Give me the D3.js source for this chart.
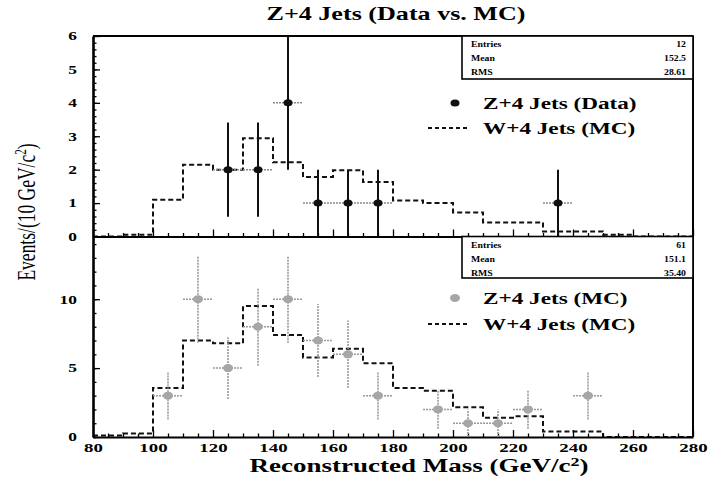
<!DOCTYPE html>
<html><head><meta charset="utf-8">
<script src="https://cdn.jsdelivr.net/npm/d3@7"></script>
<style>body{margin:0;background:#fff}</style>
</head><body>
<svg id="c" width="708" height="481"></svg>
<script>
// ---- data ----
const binLow = [80,90,100,110,120,130,140,150,160,170,180,190,200,210,220,230,240,250,260,270];
const wTop   = [0,0.05,1.1,2.15,2.0,2.94,2.22,1.78,1.98,1.63,1.08,1.0,0.72,0.42,0.42,0.15,0.15,0.05,0,0];
const wBot   = [0.1,0.25,3.55,7.0,6.8,9.5,7.4,5.77,6.4,5.36,3.55,3.35,2.15,1.4,1.5,0.4,0.4,0,0,0];
const dataX   = [125,135,145,155,165,175,235];
const dataY   = [2,2,4,1,1,1,1];
const dataErr = [1.41,1.41,2,1,1,1,1];
const mcX   = [105,115,125,135,145,155,165,175,195,205,215,225,245];
const mcY   = [3,10,5,8,10,7,6,3,2,1,1,2,3];
const mcErr = [1.73,3.16,2.24,2.83,3.16,2.65,2.45,1.73,1.41,1,1,1.41,1.73];
const xTicks = [80,100,120,140,160,180,200,220,240,260,280];
const topYTicks = [0,1,2,3,4,5,6];
const botYTicks = [0,5,10];
const statLabels = ["Entries","Mean","RMS"];
const statTopValues = ["12","152.5","28.61"];
const statBotValues = ["61","151.1","35.40"];
const title = "Z+4 Jets (Data vs. MC)";
const legendTop = ["Z+4 Jets (Data)","W+4 Jets (MC)"];
const legendBot = ["Z+4 Jets (MC)","W+4 Jets (MC)"];

// ---- layout ----
const L=93, R=693, T=36, M=236.5, B=437;
const SX = 1.45;
const FONT = "'Liberation Serif','Times New Roman',serif";
const svg = d3.select('#c');
const x = d3.scaleLinear([80,280],[L,R]);
const yTop = d3.scaleLinear([0,6],[M,T]);
const yBot = d3.scaleLinear([0,14.55],[B,M]);

function stext(parent, px, py, str, size, anchor, weight, sx) {
  return parent.append('text')
    .attr('transform', `translate(${px},${py}) scale(${sx||SX},1)`)
    .attr('text-anchor', anchor||'start')
    .attr('font-family', FONT).attr('font-size', size)
    .attr('font-weight', weight||'bold').attr('fill','#000')
    .text(str);
}

// histograms
function drawHist(yS, vals) {
  const pts = binLow.map((b,i)=>[b, vals[i]]);
  pts.push([binLow[binLow.length-1]+10, vals[vals.length-1]]);
  svg.append('path').datum(pts)
    .attr('d', d3.line().x(d=>x(d[0])).y(d=>yS(d[1])).curve(d3.curveStepAfter))
    .attr('fill','none').attr('stroke','#111').attr('stroke-width',2)
    .attr('stroke-dasharray','5,3');
}
drawHist(yTop, wTop);
drawHist(yBot, wBot);

// axes
function styleAxis(g, w) {
  g.select('.domain').attr('stroke','#000').attr('stroke-width', w||2);
  g.selectAll('.tick line').attr('stroke','#000').attr('stroke-width',1.3);
}
function xAxis(yPos, labels) {
  const g = svg.append('g').attr('transform',`translate(0,${yPos})`)
    .call(d3.axisBottom(x).tickValues(xTicks).tickSize(-7).tickSizeOuter(0).tickPadding(6)
      .tickFormat(labels ? d3.format('d') : ''));
  styleAxis(g);
  g.selectAll('.tick text').attr('font-family',FONT).attr('font-size',13)
    .attr('font-weight','bold').attr('fill','#000').attr('transform',`scale(${SX},1)`);
  const m = svg.append('g').attr('transform',`translate(0,${yPos})`)
    .call(d3.axisBottom(x).tickValues(d3.range(85,280,5).filter(v=>v%20!==0)).tickSize(-3.5).tickFormat(''));
  m.select('.domain').remove(); styleAxis(m);
}
function yAxis(yS, ticks, minor) {
  const g = svg.append('g').attr('transform',`translate(${L},0)`)
    .call(d3.axisLeft(yS).tickValues(ticks).tickSize(-7).tickSizeOuter(0).tickPadding(16/SX).tickFormat(d3.format('d')));
  styleAxis(g, 2.6);
  g.selectAll('.tick text').attr('font-family',FONT).attr('font-size',12)
    .attr('font-weight','bold').attr('fill','#000').attr('transform',`scale(${SX},1)`);
  const m = svg.append('g').attr('transform',`translate(${L},0)`)
    .call(d3.axisLeft(yS).tickValues(minor).tickSize(-3.5).tickFormat(''));
  m.select('.domain').remove(); styleAxis(m);
}
xAxis(M, false);
xAxis(B, true);
yAxis(yTop, topYTicks, d3.range(0,6.01,0.2).map(v=>+v.toFixed(1)));
yAxis(yBot, botYTicks, d3.range(0,15,1).filter(v=>v<=14.5));

// frame
svg.append('line').attr('x1',L).attr('x2',R).attr('y1',T).attr('y2',T).attr('stroke','#000').attr('stroke-width',2);
svg.append('line').attr('x1',R).attr('x2',R).attr('y1',T).attr('y2',B).attr('stroke','#000').attr('stroke-width',2);

// data points: top (black)
const gTop = svg.append('g');
dataX.forEach((v,i)=>{
  gTop.append('line').attr('x1',x(v-5)).attr('x2',x(v+5)).attr('y1',yTop(dataY[i])).attr('y2',yTop(dataY[i]))
    .attr('stroke','#8c8c8c').attr('stroke-width',1.5).attr('stroke-dasharray','2,1');
  gTop.append('line').attr('x1',x(v)).attr('x2',x(v))
    .attr('y1',yTop(Math.max(0,dataY[i]-dataErr[i]))).attr('y2',yTop(Math.min(6,dataY[i]+dataErr[i])))
    .attr('stroke','#111').attr('stroke-width',2);
  gTop.append('ellipse').attr('cx',x(v)).attr('cy',yTop(dataY[i])).attr('rx',4.5).attr('ry',3.5).attr('fill','#111');
});
// bottom (gray)
const gBot = svg.append('g');
mcX.forEach((v,i)=>{
  gBot.append('line').attr('x1',x(v-5)).attr('x2',x(v+5)).attr('y1',yBot(mcY[i])).attr('y2',yBot(mcY[i]))
    .attr('stroke','#9a9a9a').attr('stroke-width',1.5).attr('stroke-dasharray','2,1');
  gBot.append('line').attr('x1',x(v)).attr('x2',x(v))
    .attr('y1',yBot(Math.max(0,mcY[i]-mcErr[i]))).attr('y2',yBot(mcY[i]+mcErr[i]))
    .attr('stroke','#9a9a9a').attr('stroke-width',1.6).attr('stroke-dasharray','2,1');
  gBot.append('ellipse').attr('cx',x(v)).attr('cy',yBot(mcY[i])).attr('rx',5).attr('ry',4).attr('fill','#a6a6a6');
});

// stat boxes
function statBox(y0, y1, vals) {
  svg.append('rect').attr('x',462).attr('y',y0).attr('width',R-462).attr('height',y1-y0)
    .attr('fill','#fff').attr('stroke','#000').attr('stroke-width',1.6);
  statLabels.forEach((s,i)=>{
    stext(svg, 471, y0+11+i*14, s, 8.5, 'start', 'bold', 1.15);
    stext(svg, R-7, y0+11+i*14, vals[i], 8.5, 'end', 'bold', 1.15);
  });
}
statBox(T, 79, statTopValues);
statBox(M, 278, statBotValues);

// legends
const gl = svg.append('g');
gl.append('ellipse').attr('cx',455).attr('cy',103).attr('rx',4.5).attr('ry',3.5).attr('fill','#111');
stext(gl, 483, 108.5, legendTop[0], 16);
gl.append('line').attr('x1',428).attr('x2',468).attr('y1',128).attr('y2',128).attr('stroke','#111').attr('stroke-width',2).attr('stroke-dasharray','4,3');
stext(gl, 483, 133.5, legendTop[1], 16);
gl.append('ellipse').attr('cx',455).attr('cy',298).attr('rx',5).attr('ry',4).attr('fill','#a6a6a6');
stext(gl, 483, 303.5, legendBot[0], 16);
gl.append('line').attr('x1',428).attr('x2',468).attr('y1',324).attr('y2',324).attr('stroke','#111').attr('stroke-width',2).attr('stroke-dasharray','4,3');
stext(gl, 483, 329.5, legendBot[1], 16);

// title
stext(svg, 396, 20, title, 18, 'middle');

// x title
const xt = stext(svg, 419, 472, "Reconstructed Mass (GeV/c", 18, 'middle', 'bold', 1.5);
xt.append('tspan').attr('dy',-6).attr('font-size',12).text('2');
xt.append('tspan').attr('dy',6).text(')');

// y title
const yt = svg.append('text')
  .attr('transform',`translate(35,212) scale(${SX},1) rotate(-90)`)
  .attr('text-anchor','middle').attr('font-family',FONT).attr('font-size',17.5).attr('fill','#000')
  .text('Events/(10 GeV/c');
yt.append('tspan').attr('dy',-6).attr('font-size',11).text('2');
yt.append('tspan').attr('dy',6).text(')');
</script>
</body></html>
